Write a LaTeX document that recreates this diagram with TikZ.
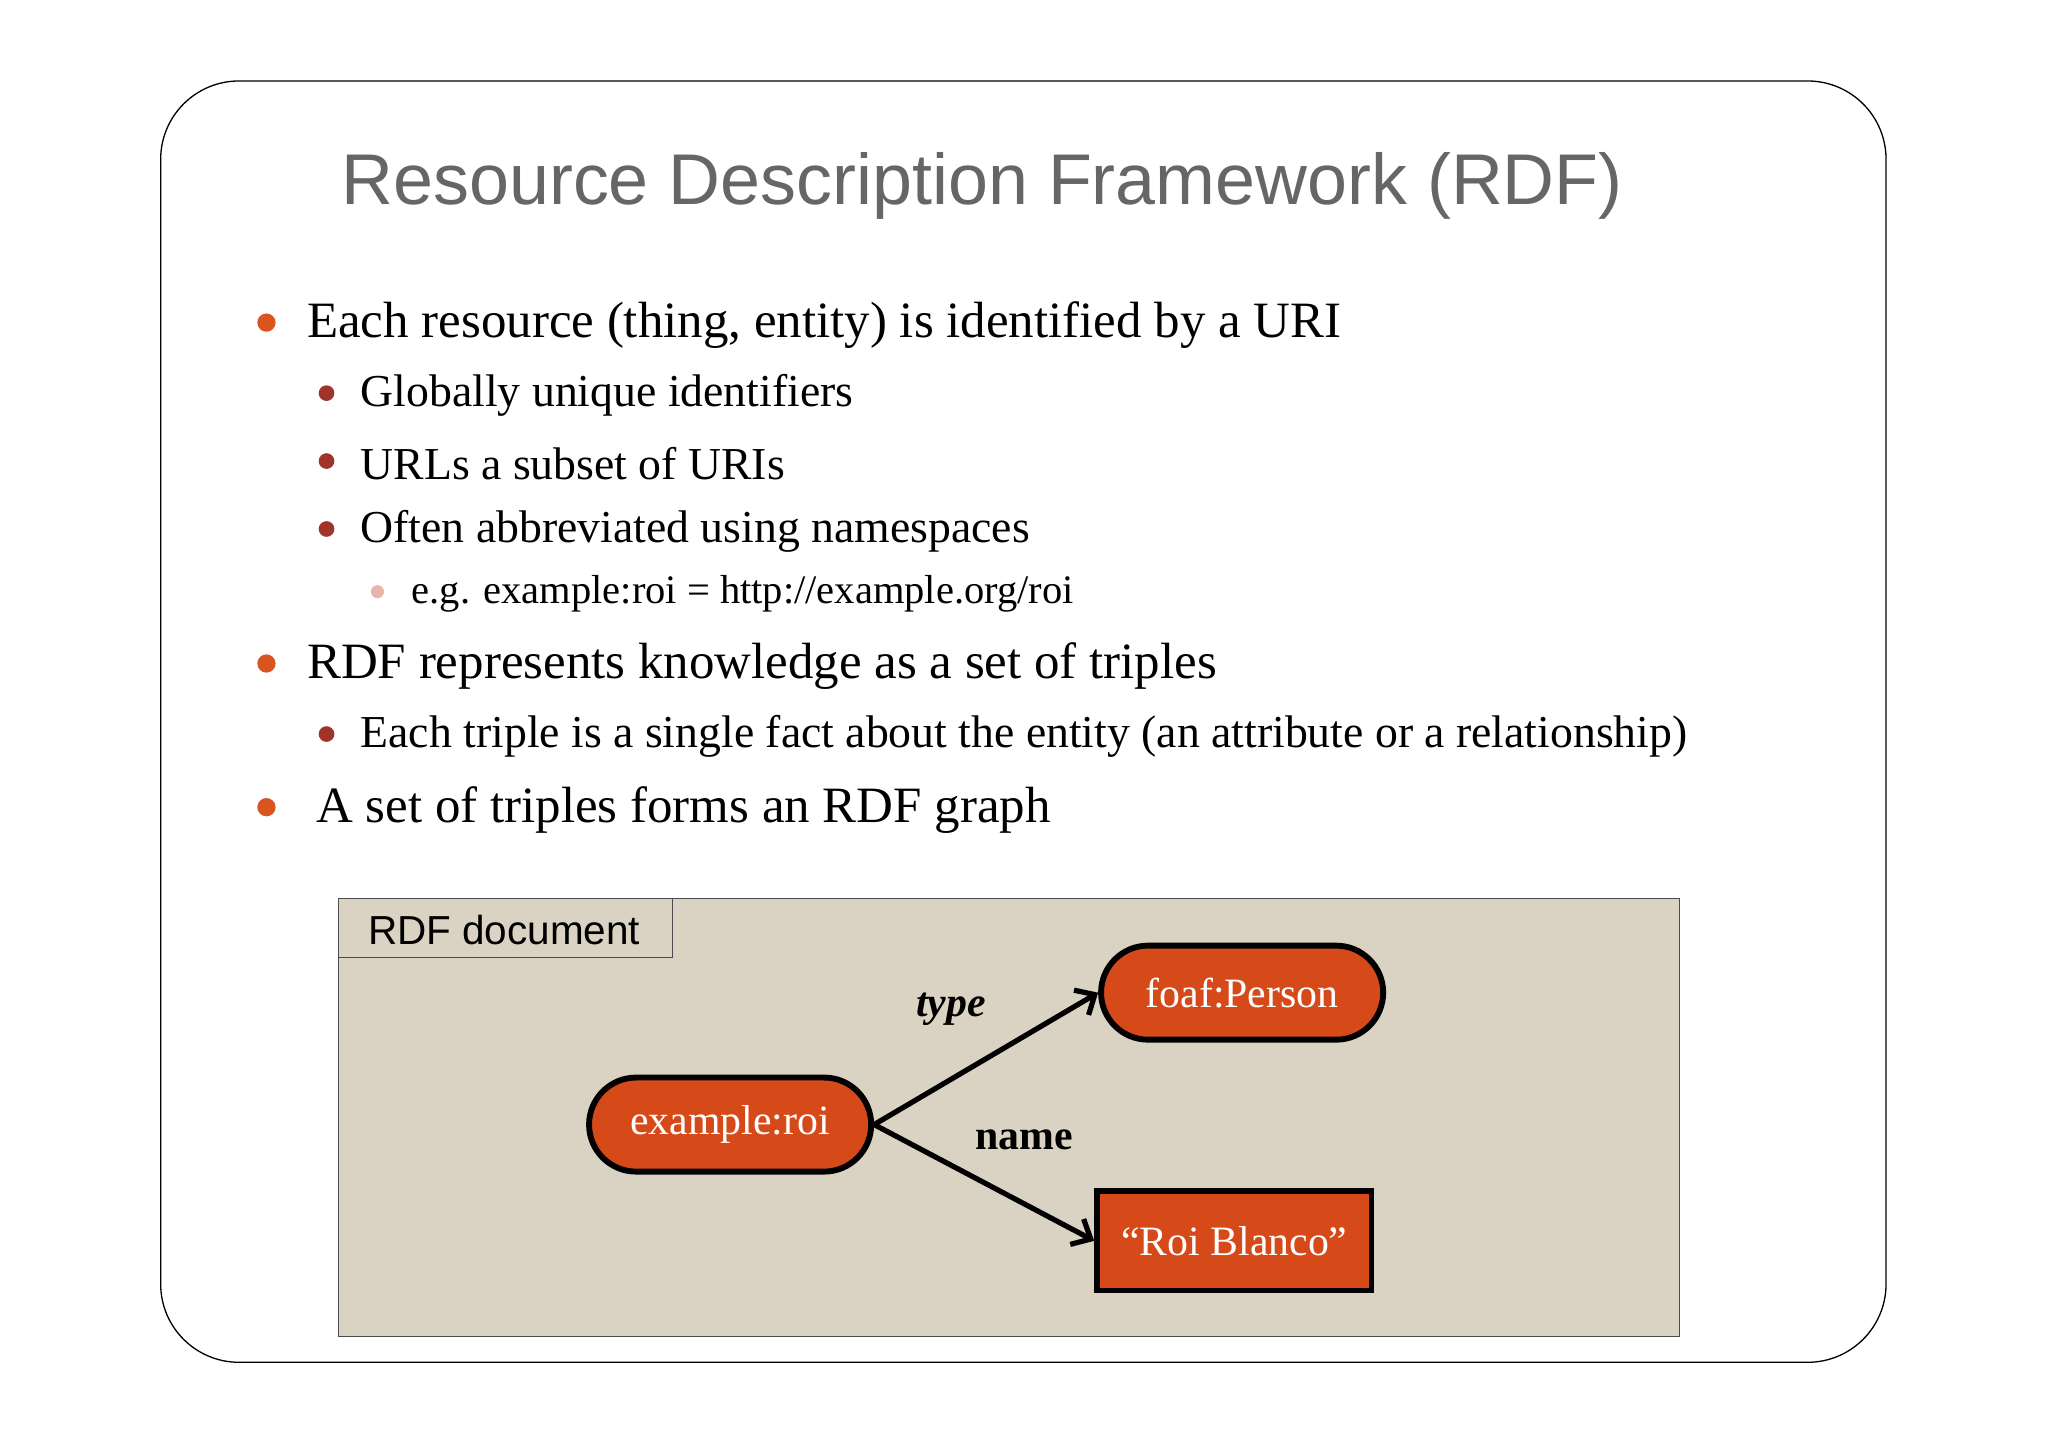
\documentclass[tikz,border=0pt]{standalone}
\usepackage{fontspec}
\setmainfont{Liberation Serif}
\newfontfamily\sansf{Liberation Sans}
\usetikzlibrary{arrows.meta}
\definecolor{orng}{HTML}{D64A1A}
\definecolor{bA}{HTML}{D9541E}
\definecolor{bB}{HTML}{A0332A}
\definecolor{bC}{HTML}{E8B4B0}
\definecolor{docbg}{HTML}{DAD2C2}
\definecolor{ttl}{HTML}{666666}
\begin{document}
\begin{tikzpicture}[x=1pt,y=-1pt,
  l1/.style={anchor=west,font=\fontsize{39}{44}\selectfont,inner sep=0},
  l2/.style={anchor=west,font=\fontsize{35}{40}\selectfont,inner sep=0},
  l3/.style={anchor=west,font=\fontsize{31}{36}\selectfont,inner sep=0},
  ent/.style={draw=black,line width=4.5pt,fill=orng,text=white,font=\fontsize{32}{36}\selectfont,minimum width=216pt,minimum height=72pt},
  arr/.style={line width=4pt,-{Straight Barb[length=12pt,width=22pt,line width=4pt]}}]
\useasboundingbox (0,0) rectangle (1568,1107);
\fill[white] (0,0) rectangle (1568,1107);
\draw[line width=1pt,rounded corners=60pt] (123,62) rectangle (1444,1043);
\node[font=\sansf\fontsize{55}{60}\selectfont,text=ttl] (title) at (752,142) {Resource Description Framework (RDF)};
\foreach \y in {247,508,618} \fill[bA] (204,\y) circle (7);
\foreach \y in {301,353,405,562} \fill[bB] (250,\y) circle (6);
\fill[bC] (289,453) circle (5);
\node[l1] (t1) at (235,249) {Each resource (thing, entity) is identified by a URI};
\node[l2] (t2) at (276,303) {Globally unique identifiers};
\node[l2] (t3) at (276,355) {URLs a subset of URIs};
\node[l2] (t4) at (276,407) {Often abbreviated using namespaces};
\node[l3] (t5) at (315,455) {e.g. example:roi = http://example.org/roi};
\node[l1] (t6) at (235,510) {RDF represents knowledge as a set of triples};
\node[l2] (t7) at (276,564) {Each triple is a single fact about the entity (an attribute or a relationship)};
\node[l1] (t8) at (242,620) {A set of triples forms an RDF graph};
\draw[fill=docbg,draw=black!70,line width=1pt] (259,688) rectangle (1286,1023);
\draw[draw=black!70,line width=1pt] (259,688) rectangle (515,733);
\node[anchor=center,font=\sansf\fontsize{31}{34}\selectfont] (doc) at (386,712) {RDF document};
\node[ent,rounded corners=36pt] (roi) at (559,861) {example:roi};
\node[ent,rounded corners=36pt] (person) at (951,760) {foaf:Person};
\node[ent,minimum width=210pt,minimum height=76pt] (name) at (945,950) {“Roi Blanco”};
\draw[arr] (roi.east) -- (person.west);
\draw[arr] (roi.east) -- (name.west);
\node[font=\fontsize{32}{36}\selectfont\bfseries\itshape] (lt) at (728,773) {type};
\node[font=\fontsize{32}{36}\selectfont\bfseries] (ln) at (784,873) {name};
\end{tikzpicture}
\end{document}
